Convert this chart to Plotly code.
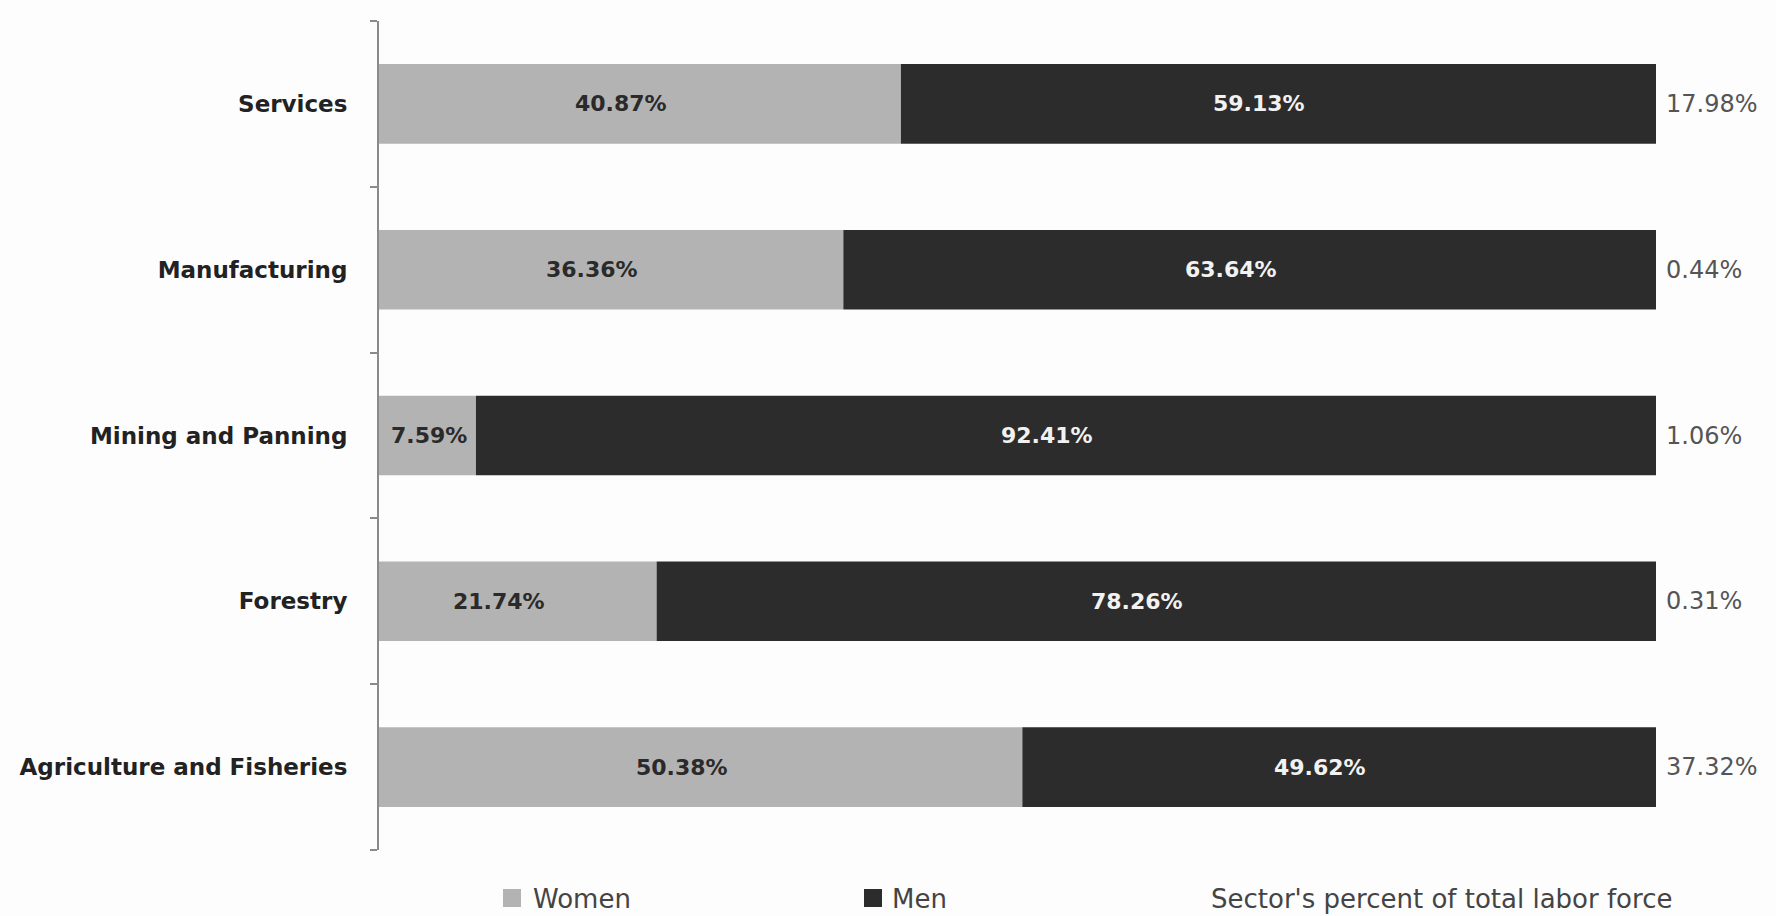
import plotly.graph_objects as go

categories = ["Services", "Manufacturing", "Mining and Panning", "Forestry", "Agriculture and Fisheries"]
women = [40.87, 36.36, 7.59, 21.74, 50.38]
men = [59.13, 63.64, 92.41, 78.26, 49.62]
sector_share = [17.98, 0.44, 1.06, 0.31, 37.32]

W, H = 1776, 916
ML, MR, MT, MB = 379, 120, 21, 66
PW = W - ML - MR
PH = H - MT - MB

def px_x(p):
    return (p - ML) / PW

def px_y(p):
    return (H - MB - p) / PH

WOMEN_C = "#b3b3b3"
MEN_C = "#2c2c2c"
FONT = "DejaVu Sans"

fig = go.Figure()
fig.add_trace(go.Bar(y=categories, x=women, orientation="h", name="Women",
                     marker=dict(color=WOMEN_C, line=dict(width=0)), hoverinfo="x+y"))
fig.add_trace(go.Bar(y=categories, x=men, base=women, orientation="h", name="Men",
                     marker=dict(color=MEN_C, line=dict(width=0)), hoverinfo="x+y"))

ann = []
for c, w, m, s in zip(categories, women, men, sector_share):
    ann.append(dict(x=w / 2, y=c, xref="x", yref="y", text=f"{w:.2f}%", showarrow=False,
                    xshift=-19 if w > 15 else 2, font=dict(family=FONT, size=22, color="#2a2a2a", weight="bold")))
    ann.append(dict(x=w + m / 2, y=c, xref="x", yref="y", text=f"{m:.2f}%", showarrow=False,
                    xshift=-19, font=dict(family=FONT, size=22, color="#f2f2f2", weight="bold")))
    ann.append(dict(x=100, y=c, xref="x", yref="y", text=f"{s:.2f}%", showarrow=False,
                    xanchor="left", xshift=8, font=dict(family=FONT, size=24, color="#555555")))

ly = px_y(899)
legend_items = [("Women", WOMEN_C, 503, 531), ("Men", MEN_C, 864, 890)]
shapes = []
for name, col, sx, tx in legend_items:
    shapes.append(dict(type="rect", xref="paper", yref="paper",
                       x0=px_x(sx), x1=px_x(sx + 18), y0=px_y(907), y1=px_y(889),
                       fillcolor=col, line=dict(width=0)))
    ann.append(dict(x=px_x(tx), y=ly, xref="paper", yref="paper", text=name, showarrow=False,
                    xanchor="left", yanchor="middle", font=dict(family=FONT, size=26, color="#444444")))
ann.append(dict(x=px_x(1209), y=ly, xref="paper", yref="paper", text="Sector's percent of total labor force",
                showarrow=False, xanchor="left", yanchor="middle",
                font=dict(family=FONT, size=26, color="#444444")))

fig.update_layout(
    width=W, height=H,
    margin=dict(l=ML, r=MR, t=MT, b=MB),
    barmode="overlay", bargap=0.52,
    paper_bgcolor="#fdfdfd", plot_bgcolor="#fdfdfd",
    showlegend=False,
    annotations=ann, shapes=shapes,
    xaxis=dict(range=[0, 100], visible=False, fixedrange=True),
    yaxis=dict(categoryorder="array", categoryarray=categories[::-1],
               showline=True, linecolor="#8a8a8a", linewidth=2,
               ticks="outside", ticklen=7, tickcolor="#8a8a8a", tickwidth=2,
               tickson="boundaries", showgrid=False, zeroline=False,
               ticklabelstandoff=25,
               tickfont=dict(family=FONT, size=23, color="#222222", weight="bold")),
    font=dict(family=FONT),
)

fig.write_html("out.html")
